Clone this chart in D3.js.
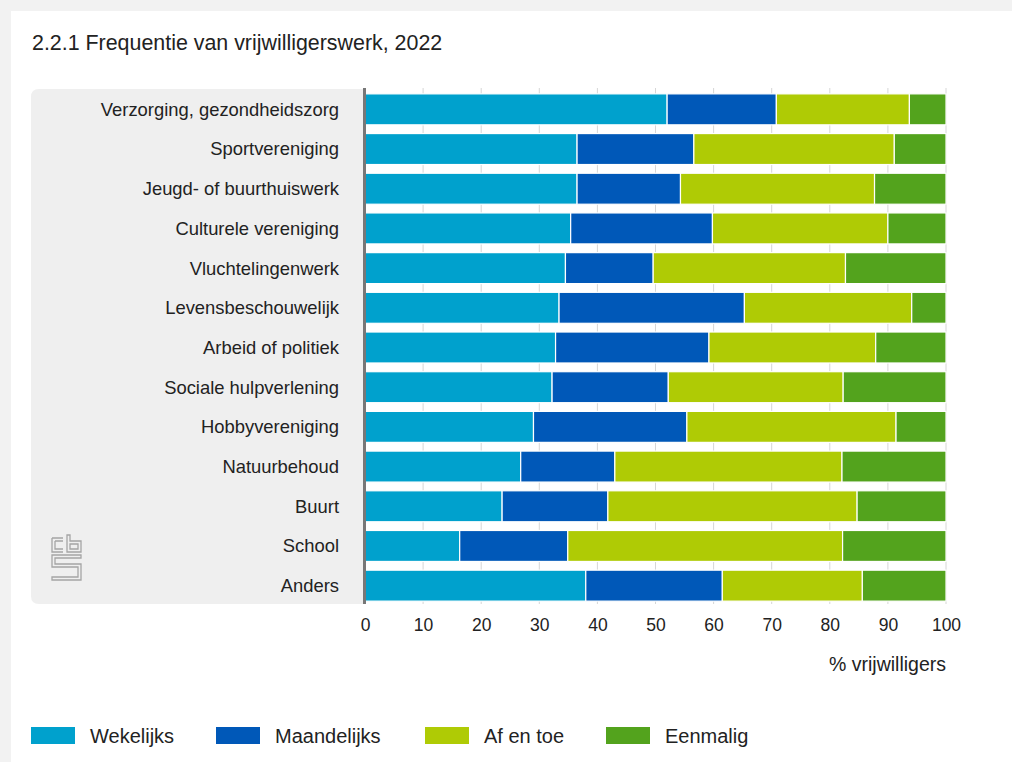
<!DOCTYPE html>
<html>
<head>
<meta charset="utf-8">
<script src="https://cdn.jsdelivr.net/npm/d3@7"></script>
<style>
  body { margin: 0; background: #f2f2f2; font-family: "Liberation Sans", Arial, sans-serif; }
  #card { position: absolute; left: 11px; top: 11px; width: 1010px; height: 760px; background: #fff; }
  svg { position: absolute; left: 0; top: 0; }
</style>
</head>
<body>
<div id="card"></div>
<svg id="chart" width="1012" height="762"></svg>
<script>
// categories, top to bottom
const categories = [
  "Verzorging, gezondheidszorg", "Sportvereniging", "Jeugd- of buurthuiswerk",
  "Culturele vereniging", "Vluchtelingenwerk", "Levensbeschouwelijk",
  "Arbeid of politiek", "Sociale hulpverlening", "Hobbyvereniging",
  "Natuurbehoud", "Buurt", "School", "Anders"
];
const seriesNames = ["Wekelijks", "Maandelijks", "Af en toe", "Eenmalig"];
const seriesColors = ["#00a1cd", "#0058b8", "#afcb05", "#53a31d"];

// % vrijwilligers per series
const wekelijks   = [52.0, 36.5, 36.5, 35.4, 34.5, 33.4, 32.8, 32.2, 29.0, 26.8, 23.6, 16.3, 38.0];
const maandelijks = [18.8, 20.1, 17.8, 24.4, 15.1, 31.9, 26.4, 20.0, 26.4, 16.2, 18.2, 18.6, 23.5];
const afEnToe     = [22.9, 34.5, 33.4, 30.2, 33.1, 28.8, 28.7, 30.1, 36.0, 39.1, 42.9, 47.3, 24.1];
const eenmalig    = [ 6.3,  8.9, 12.3, 10.0, 17.3,  5.9, 12.1, 17.7,  8.6, 17.9, 15.3, 17.8, 14.4];
const xTicks = [0, 10, 20, 30, 40, 50, 60, 70, 80, 90, 100];

const table = categories.map((c, i) => ({
  cat: c,
  "Wekelijks": wekelijks[i],
  "Maandelijks": maandelijks[i],
  "Af en toe": afEnToe[i],
  "Eenmalig": eenmalig[i]
}));

const svg = d3.select("#chart");

svg.append("text")
  .attr("x", 32).attr("y", 50)
  .attr("font-size", 21.4).attr("fill", "#222")
  .text("2.2.1 Frequentie van vrijwilligerswerk, 2022");

const x = d3.scaleLinear().domain([0, 100]).range([365, 946]);
const y = d3.scaleBand().domain(categories).range([89.5, 605.5]).paddingInner(0.22).paddingOuter(0.11);

// label panel
svg.append("path")
  .attr("d", "M364,89 H39 Q31,89 31,97 V596 Q31,604 39,604 H364 Z")
  .attr("fill", "#efefef");

// grid lines
svg.append("g").selectAll("line")
  .data(xTicks).join("line")
  .attr("x1", d => x(d)).attr("x2", d => x(d))
  .attr("y1", 88).attr("y2", 604)
  .attr("stroke", "#d6d6d6").attr("stroke-width", 1);

const stack = d3.stack().keys(seriesNames);
const layers = stack(table);

svg.append("g").selectAll("g")
  .data(layers).join("g")
  .attr("fill", (d, i) => seriesColors[i])
  .selectAll("rect")
  .data(d => d).join("rect")
  .attr("x", d => x(d[0]))
  .attr("y", d => y(d.data.cat))
  .attr("width", d => x(d[1]) - x(d[0]))
  .attr("height", y.bandwidth())
  .attr("stroke", "#fff").attr("stroke-width", 1.2);

// category labels
svg.append("g").selectAll("text")
  .data(categories).join("text")
  .attr("x", 339)
  .attr("y", d => y(d) + y.bandwidth() / 2)
  .attr("dy", "0.35em")
  .attr("text-anchor", "end")
  .attr("font-size", 18.4).attr("fill", "#222")
  .text(d => d);

// axis line
svg.append("line")
  .attr("x1", 364.5).attr("x2", 364.5).attr("y1", 88).attr("y2", 604)
  .attr("stroke", "#777").attr("stroke-width", 3);

// x axis
const xAxis = svg.append("g")
  .attr("transform", "translate(0,617)")
  .call(d3.axisBottom(x).tickValues(xTicks).tickSize(0).tickPadding(0));
xAxis.select(".domain").remove();
xAxis.selectAll("text")
  .attr("font-size", 17.5).attr("fill", "#222")
  .attr("font-family", "Liberation Sans, Arial, sans-serif")
  .attr("dy", "0.8em");

svg.append("text")
  .attr("x", 946).attr("y", 671)
  .attr("text-anchor", "end")
  .attr("font-size", 19.5).attr("fill", "#222")
  .text("% vrijwilligers");

// cbs logo
const logo = svg.append("g").attr("fill", "none").attr("stroke", "#a5a5a5").attr("stroke-width", 1.3);
logo.append("path").attr("d", "M52,538 H63 M52,538 V552 H63 M55,541 H63 M55,541 V549 H63");
logo.append("path").attr("d", "M67,535 V552 H81 V541 H70 V535 Z M70,544 H78 V549 H70 Z");
logo.append("path").attr("d", "M52,555 H81 V558 H55 V564 H81 V580 H52 V577 H78 V567 H52 Z");

// legend
const legendX = [31, 216, 425, 606];
const legend = svg.append("g").selectAll("g")
  .data(seriesNames).join("g")
  .attr("transform", (d, i) => `translate(${legendX[i]},727)`);
legend.append("rect")
  .attr("width", 44).attr("height", 17)
  .attr("fill", (d, i) => seriesColors[i]);
legend.append("text")
  .attr("x", 59).attr("y", 8.5).attr("dy", "0.35em")
  .attr("font-size", 20).attr("fill", "#222")
  .text(d => d);
</script>
</body>
</html>
